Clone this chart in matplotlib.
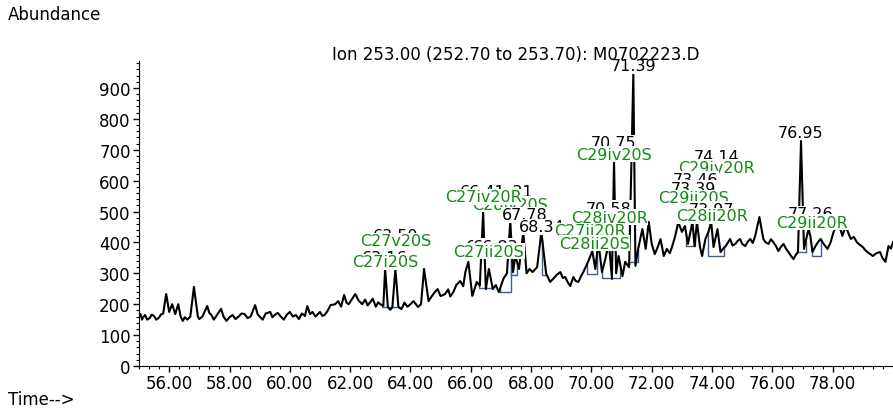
import numpy as np
import matplotlib

matplotlib.use("agg")
import matplotlib.pyplot as plt
from matplotlib.ticker import MultipleLocator, FormatStrFormatter

plt.rcParams["font.family"] = "DejaVu Sans"

# ion chromatogram trace (minutes, abundance)
rt_min = [
    55.0, 55.05, 55.1, 55.15, 55.2, 55.27, 55.35, 55.42, 55.5, 55.57, 55.65, 55.72,
    55.8, 55.9, 56.0, 56.1, 56.2, 56.3, 56.38, 56.45, 56.52, 56.6, 56.7, 56.82,
    56.95, 57.0, 57.1, 57.26, 57.33, 57.4, 57.48, 57.55, 57.63, 57.72, 57.8, 57.9,
    58.0, 58.1, 58.2, 58.3, 58.4, 58.5, 58.6, 58.7, 58.85, 58.93, 59.0, 59.1,
    59.2, 59.35, 59.42, 59.5, 59.6, 59.7, 59.8, 59.9, 60.0, 60.1, 60.2, 60.3,
    60.4, 60.5, 60.58, 60.67, 60.75, 60.85, 61.0, 61.08, 61.15, 61.25, 61.35, 61.5,
    61.6, 61.7, 61.8, 61.88, 61.95, 62.05, 62.17, 62.28, 62.4, 62.5, 62.58, 62.67,
    62.75, 62.85, 62.93, 63.0, 63.1, 63.16, 63.25, 63.33, 63.4, 63.5, 63.6, 63.7,
    63.8, 63.9, 64.0, 64.1, 64.25, 64.35, 64.45, 64.6, 64.7, 64.8, 64.9, 65.0,
    65.15, 65.25, 65.32, 65.42, 65.52, 65.65, 65.75, 65.82, 65.92, 66.05, 66.2, 66.3,
    66.41, 66.5, 66.6, 66.73, 66.83, 66.93, 67.08, 67.2, 67.31, 67.4, 67.48, 67.6,
    67.74, 67.85, 67.95, 68.05, 68.2, 68.34, 68.5, 68.57, 68.63, 68.73, 68.85, 68.97,
    69.05, 69.13, 69.22, 69.3, 69.4, 69.48, 69.57, 69.65, 69.73, 69.8, 69.9, 70.03,
    70.13, 70.23, 70.35, 70.46, 70.58, 70.68, 70.75, 70.82, 70.9, 71.03, 71.12, 71.25,
    71.39, 71.46, 71.55, 71.69, 71.8, 71.9, 72.0, 72.1, 72.2, 72.29, 72.4, 72.5,
    72.6, 72.68, 72.78, 72.88, 73.0, 73.1, 73.2, 73.35, 73.42, 73.5, 73.6, 73.67,
    73.78, 73.88, 73.97, 74.05, 74.18, 74.28, 74.37, 74.45, 74.53, 74.6, 74.68, 74.77,
    74.85, 74.93, 75.0, 75.1, 75.18, 75.27, 75.35, 75.43, 75.57, 75.7, 75.78, 75.87,
    75.95, 76.03, 76.12, 76.2, 76.28, 76.37, 76.45, 76.53, 76.62, 76.7, 76.78, 76.85,
    76.95, 77.05, 77.12, 77.2, 77.26, 77.33, 77.43, 77.52, 77.6, 77.7, 77.83, 77.93,
    78.03, 78.19, 78.32, 78.43, 78.52, 78.6, 78.7, 78.8, 78.9, 79.0, 79.08, 79.15,
    79.25, 79.33, 79.45, 79.57, 79.65, 79.75, 79.85, 79.93, 80.0,
]
abundance = [
    160, 168, 150, 160, 165, 150, 155, 166, 162, 150, 155, 166,
    170, 233, 175, 200, 168, 200, 160, 146, 158, 150, 160, 256,
    160, 152, 160, 194, 172, 165, 150, 160, 172, 185, 160, 146,
    158, 165, 152, 160, 170, 168, 155, 160, 197, 168, 160, 150,
    170, 175, 158, 165, 172, 160, 150, 166, 175, 160, 165, 152,
    170, 162, 194, 168, 175, 160, 175, 162, 165, 178, 197, 200,
    210, 192, 230, 205, 200, 215, 233, 212, 200, 215, 196, 207,
    218, 192, 206, 200, 195, 314, 191, 182, 190, 314, 191, 184,
    205, 192, 200, 210, 191, 200, 314, 210, 225, 238, 249, 226,
    233, 248, 225, 239, 262, 275, 258, 304, 337, 227, 272, 260,
    498, 249, 314, 249, 262, 239, 282, 300, 469, 304, 356, 314,
    434, 300, 314, 304, 320, 434, 298, 285, 272, 282, 295, 304,
    285, 288, 270, 259, 288, 275, 272, 290, 304, 318, 340, 372,
    314, 401, 304, 346, 400, 282, 660, 300, 356, 291, 337, 320,
    945, 324, 379, 443, 379, 466, 395, 362, 385, 411, 356, 379,
    365, 388, 421, 466, 434, 453, 395, 466, 388, 466, 385, 356,
    411, 434, 466, 385, 443, 369, 380, 388, 400, 411, 390, 395,
    405, 411, 395, 388, 402, 411, 398, 421, 482, 411, 400, 395,
    410, 401, 388, 372, 385, 395, 380, 369, 356, 346, 360, 370,
    728, 379, 410, 443, 420, 369, 388, 402, 411, 395, 379, 400,
    434, 466, 421, 453, 430, 411, 418, 401, 392, 385, 375, 369,
    362, 356, 365, 369, 350, 337, 388, 380, 401,
]

# integration baselines (start, end, level)
base_start = [63.06, 66.28, 66.98, 67.34, 68.37, 69.86, 70.36, 71.22, 73.15, 73.88, 76.83, 77.33]
base_end = [63.66, 66.75, 67.34, 67.54, 68.54, 70.20, 70.96, 71.55, 73.45, 74.38, 77.10, 77.60]
base_level = [190, 252, 240, 294, 294, 298, 285, 337, 388, 356, 369, 356]

# peak labels, in drawing order (later ones sit on top)
label_rt = [
    71.39, 70.75, 70.75, 76.95, 74.14, 74.14, 73.46, 73.39, 73.39, 73.97, 74.0,
    77.26, 77.3, 67.31, 66.41, 67.31, 66.41, 67.78, 68.34, 70.58, 70.03, 70.11,
    70.60, 69.96, 70.10, 66.60, 66.83, 66.60, 63.50, 63.50, 63.16, 63.16,
]
label_text = [
    "71.39", "70.75", "C29iv20S", "76.95", "74.14", "C29iv20R", "73.46", "73.39",
    "C29ii20S", "73.97", "C28ii20R", "77.26", "C29ii20R", "67.31", "66.41",
    "C28iv20S", "C27iv20R", "67.78", "68.34", "70.58", "70.03", "70.11",
    "C28iv20R", "C27ii20R", "C28ii20S", "66.60", "66.83", "C27ii20S",
    "63.50", "C27v20S", "63.16", "C27i20S",
]
label_y = [
    971, 722, 686, 757, 677, 644, 605, 576, 544, 508, 486,
    492, 466, 566, 566, 524, 547, 489, 450, 511, 466, 420,
    482, 437, 398, 388, 388, 372, 421, 405, 352, 337,
]

fig = plt.figure(figsize=(8.93, 4.14), dpi=100)
ax = fig.add_axes([0.1557, 0.1135, 0.8443, 0.7367])

ax.plot(rt_min, abundance, color="black", lw=1.5, zorder=2)

# blue baseline steps
for t0, t1, lev in zip(base_start, base_end, base_level):
    y0 = np.interp(t0, rt_min, abundance)
    y1 = np.interp(t1, rt_min, abundance)
    ax.plot([t0, t0, t1, t1], [y0, lev, lev, y1], color="#3a5f94", lw=1.0, zorder=1.5)

for idx, (rt, txt, ty) in enumerate(zip(label_rt, label_text, label_y)):
    col = "black" if txt[0].isdigit() else "#138a13"
    ax.text(
        rt, ty, txt, color=col, fontsize=11.5, ha="center", va="center",
        zorder=3 + idx * 0.01,
        bbox=dict(facecolor="white", edgecolor="none", boxstyle="square,pad=0.02"),
    )

ax.set_xlim(55, 80)
ax.set_ylim(0, 987)
ax.xaxis.set_minor_locator(MultipleLocator(1 / 3))
ax.xaxis.set_major_formatter(FormatStrFormatter("%.2f"))
ax.set_xticks(np.arange(56, 79, 2))
ax.yaxis.set_minor_locator(MultipleLocator(20))
ax.set_yticks(np.arange(0, 901, 100))

ax.spines["top"].set_visible(False)
ax.spines["right"].set_visible(False)
ax.tick_params(axis="both", which="major", labelsize=12, length=4, width=1, pad=2)
ax.tick_params(axis="both", which="minor", length=2, width=0.8)

fig.text(0.578, 0.867, "Ion 253.00 (252.70 to 253.70): M0702223.D",
         ha="center", va="center", fontsize=12)
fig.text(0.009, 0.964, "Abundance", ha="left", va="center", fontsize=12)
fig.text(0.009, 0.034, "Time-->", ha="left", va="center", fontsize=12)

plt.savefig("out.png", dpi=100)
plt.close(fig)
